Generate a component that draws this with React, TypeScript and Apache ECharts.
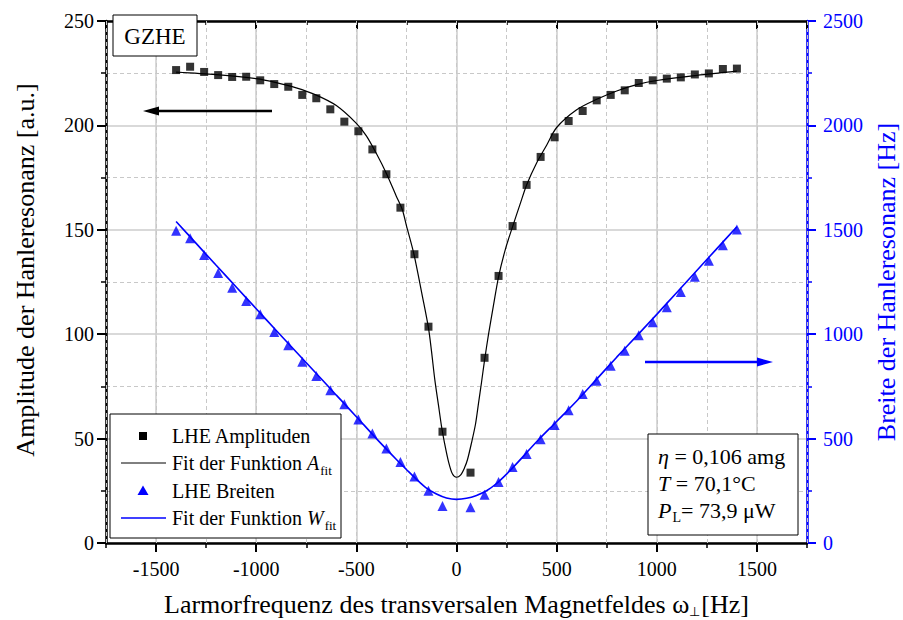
import React, { useEffect, useRef } from "react";
import * as echarts from "echarts";

// ---- data ----
const freqPoints = [
  -1400, -1330, -1260, -1190, -1120, -1050, -980, -910, -840, -770, -700, -630, -560, -490, -420, -350, -280, -210, -140, -70,
  70, 140, 210, 280, 350, 420, 490, 560, 630, 700, 770, 840, 910, 980, 1050, 1120, 1190, 1260, 1330, 1400,
];
const amplitudes = [
  226.5, 228.1, 225.6, 224.1, 223.2, 223.3, 221.6, 219.8, 218.5, 214.6, 213.0, 207.7, 201.8, 197.2, 188.5, 176.6, 160.6, 138.3, 103.6, 53.3,
  33.7, 88.7, 127.9, 151.8, 171.5, 184.9, 194.3, 202.1, 206.9, 212.0, 214.6, 216.8, 220.3, 221.6, 222.4, 223.0, 224.4, 224.9, 227.0, 227.2,
];
const widths = [
  1496, 1459, 1379, 1293, 1223, 1159, 1095, 1011, 947, 868, 800, 731, 664, 592, 524, 452, 388, 318, 250, 177,
  171, 231, 292, 364, 426, 497, 565, 636, 714, 777, 849, 921, 995, 1057, 1129, 1202, 1275, 1352, 1426, 1502,
];

const fitAX = [
  -1400, -1200, -1000, -900, -800, -700, -600, -500, -450, -400, -350, -300, -270, -250, -213, -170, -140, -125, -108, -90, -75, -60, -40, -20, 0,
  20, 40, 55, 75, 95, 110, 125, 140, 160, 185, 210, 245, 280, 320, 350, 400, 450, 500, 600, 700, 800, 900, 1000, 1200, 1400,
];
const fitAY = [
  225.5, 224.3, 222.4, 220.5, 218, 214.5, 209.5, 201, 195, 186.5, 177, 166, 159.5, 152, 138.5, 118, 103, 92, 78, 66, 56, 48, 39, 33, 31.5,
  32.5, 36, 40, 48, 57, 67, 77, 87.5, 100, 114, 127.5, 141, 151.5, 163, 171.5, 182, 190.5, 199, 207.5, 212.5, 216.5, 219.5, 221.5, 224, 226,
];
const fitWX = [
  -1400, -1300, -1200, -1100, -1000, -900, -800, -700, -600, -500, -400, -300, -250, -200, -150, -100, -50, 0,
  50, 100, 150, 200, 250, 300, 400, 500, 600, 700, 800, 900, 1000, 1100, 1200, 1300, 1400,
];
const fitWY = [
  1540, 1435, 1330, 1226, 1122, 1018, 915, 812, 708, 605, 500, 400, 352, 305, 263, 235, 216, 209,
  214, 228, 250, 285, 330, 380, 485, 582, 680, 785, 890, 992, 1095, 1200, 1305, 1410, 1515,
];

const xTickLabels = ["-1500", "-1000", "-500", "0", "500", "1000", "1500"];
const leftTicks = [0, 50, 100, 150, 200, 250];
const rightTicks = [0, 500, 1000, 1500, 2000, 2500];

const FONT = "'Liberation Serif', 'Times New Roman', serif";
const BLUE = "#0000ff";

export default function App() {
  const ref = useRef<HTMLDivElement>(null);

  useEffect(() => {
    if (!ref.current) return;
    const chart = echarts.init(ref.current, null, { renderer: "svg" });

    const ampData = freqPoints.map((x, i) => [x, amplitudes[i]]);
    const widthData = freqPoints.map((x, i) => [x, widths[i]]);
    const fitAData = fitAX.map((x, i) => [x, fitAY[i]]);
    const fitWData = fitWX.map((x, i) => [x, fitWY[i]]);

    const majorGrid = { color: "#cccccc", width: 1.5 };
    const minorGrid = { color: "#c8c8c8", width: 1, type: [4, 3] as any };

    const xBase = { type: "value" as const, min: -1750, max: 1750 };
    const Z = 100;

    const option: any = {
      animation: false,
      backgroundColor: "#ffffff",
      textStyle: { fontFamily: FONT },
      grid: { left: 106, right: 96, top: 21, bottom: 77, containLabel: false, outerBoundsMode: "none" },
      xAxis: [
        {
          ...xBase,
          position: "bottom",
          splitNumber: 7,
          axisLine: { onZero: false, lineStyle: { color: "#000", width: 2.5 } },
          axisTick: { length: 9, lineStyle: { color: "#000", width: 2 } },
          axisLabel: {
            fontFamily: FONT,
            fontSize: 20,
            color: "#000",
            margin: 16,
            showMinLabel: false,
            showMaxLabel: false,
            formatter: (v: number) => (xTickLabels.includes(String(v)) ? String(v) : ""),
          },
          splitLine: { show: true, lineStyle: majorGrid },
          name: "{m|Larmorfrequenz des transversalen Magnetfeldes ω}{sub|⊥}{m|[Hz]}",
          nameLocation: "middle",
          nameGap: 47,
          nameTextStyle: {
            fontFamily: FONT,
            fontSize: 26,
            color: "#000",
            rich: {
              m: { fontFamily: FONT, fontSize: 26, color: "#000", lineHeight: 28 },
              sub: { fontFamily: FONT, fontSize: 13, color: "#000", lineHeight: 13, padding: [14, 1, 0, 0] },
            },
          },
        },
        {
          ...xBase,
          position: "bottom",
          interval: 250,
          axisLine: { show: false, onZero: false },
          axisTick: { length: 5, lineStyle: { color: "#000", width: 1.5 } },
          axisLabel: { show: false },
          splitLine: { show: true, lineStyle: minorGrid },
          z: 1,
        },
        {
          ...xBase,
          position: "top",
          splitNumber: 7,
          axisLine: { onZero: false, lineStyle: { color: "#000", width: 2.5 } },
          axisTick: { inside: true, length: 8, lineStyle: { color: "#000", width: 2 } },
          axisLabel: { show: false },
          splitLine: { show: false },
        },
        {
          ...xBase,
          position: "top",
          interval: 250,
          axisLine: { show: false, onZero: false },
          axisTick: { inside: true, length: 4, lineStyle: { color: "#000", width: 1.5 } },
          axisLabel: { show: false },
          splitLine: { show: false },
        },
      ],
      yAxis: [
        {
          type: "value",
          position: "left",
          min: leftTicks[0],
          max: leftTicks[leftTicks.length - 1],
          interval: 50,
          axisLine: { show: true, onZero: false, lineStyle: { color: "#000", width: 2.5 } },
          axisTick: { show: true, length: 9, lineStyle: { color: "#000", width: 2 } },
          minorTick: { show: true, splitNumber: 2, length: 5, lineStyle: { color: "#000", width: 1.5 } },
          axisLabel: { fontFamily: FONT, fontSize: 20, color: "#000", margin: 12, formatter: (v: number) => String(v) },
          splitLine: { show: true, lineStyle: majorGrid },
          minorSplitLine: { show: true, lineStyle: minorGrid },
          name: "Amplitude der Hanleresonanz [a.u.]",
          nameLocation: "middle",
          nameRotate: 90,
          nameGap: 68,
          nameTextStyle: { fontFamily: FONT, fontSize: 26, color: "#000", padding: [0, 0, 0, 24] },
        },
        {
          type: "value",
          position: "right",
          min: rightTicks[0],
          max: rightTicks[rightTicks.length - 1],
          interval: 500,
          axisLine: { show: true, onZero: false, lineStyle: { color: BLUE, width: 2.5 } },
          axisTick: { show: true, length: 9, lineStyle: { color: BLUE, width: 2 } },
          minorTick: { show: true, splitNumber: 2, length: 5, lineStyle: { color: BLUE, width: 1.5 } },
          axisLabel: { fontFamily: FONT, fontSize: 20, color: BLUE, margin: 16, formatter: (v: number) => String(v) },
          splitLine: { show: false },
          name: "Breite der Hanleresonanz [Hz]",
          nameLocation: "middle",
          nameRotate: 90,
          nameGap: 64,
          nameTextStyle: { fontFamily: FONT, fontSize: 26, color: BLUE },
        },
      ],
      series: [
        {
          name: "Fit der Funktion A",
          type: "line",
          xAxisIndex: 0,
          yAxisIndex: 0,
          data: fitAData,
          showSymbol: false,
          smooth: 0.3,
          lineStyle: { color: "#000", width: 1.2 },
          z: 3,
        },
        {
          name: "Fit der Funktion W",
          type: "line",
          xAxisIndex: 0,
          yAxisIndex: 1,
          data: fitWData,
          showSymbol: false,
          smooth: 0.3,
          lineStyle: { color: BLUE, width: 1.6 },
          z: 3,
        },
        {
          name: "LHE Amplituden",
          type: "scatter",
          xAxisIndex: 0,
          yAxisIndex: 0,
          data: ampData,
          symbol: "rect",
          symbolSize: 8,
          itemStyle: { color: "#000" },
          z: 4,
        },
        {
          name: "LHE Breiten",
          type: "scatter",
          xAxisIndex: 0,
          yAxisIndex: 1,
          data: widthData,
          symbol: "triangle",
          symbolSize: 10,
          itemStyle: { color: BLUE },
          z: 4,
        },
      ],
      graphic: [
        // GZHE label box
        { type: "rect", z: Z, shape: { x: 113, y: 15, width: 84, height: 41 }, style: { fill: "#fff", stroke: "#000", lineWidth: 1 } },
        {
          type: "text",
          z: Z + 1,
          x: 155,
          y: 36,
          style: { text: "GZHE", font: `23px ${FONT}`, fill: "#000", align: "center", verticalAlign: "middle" },
        },
        // black arrow (points to left axis)
        { type: "line", z: Z, shape: { x1: 156, y1: 111, x2: 272, y2: 111 }, style: { stroke: "#000", lineWidth: 2.5 } },
        { type: "polygon", z: Z, shape: { points: [[143, 111], [159, 106.5], [159, 115.5]] }, style: { fill: "#000" } },
        // blue arrow (points to right axis)
        { type: "line", z: Z, shape: { x1: 645, y1: 362, x2: 760, y2: 362 }, style: { stroke: BLUE, lineWidth: 2.5 } },
        { type: "polygon", z: Z, shape: { points: [[773, 362], [757, 357.5], [757, 366.5]] }, style: { fill: BLUE } },
        // legend
        { type: "rect", z: Z, shape: { x: 110, y: 414, width: 231, height: 124 }, style: { fill: "#fff", stroke: "#000", lineWidth: 1 } },
        { type: "rect", z: Z + 1, shape: { x: 139, y: 432, width: 8, height: 8 }, style: { fill: "#000" } },
        {
          type: "text",
          z: Z + 1,
          x: 172,
          y: 436,
          style: { text: "LHE Amplituden", font: `20px ${FONT}`, fill: "#000", verticalAlign: "middle" },
        },
        { type: "line", z: Z + 1, shape: { x1: 121, y1: 463, x2: 166, y2: 463 }, style: { stroke: "#000", lineWidth: 1 } },
        {
          type: "text",
          z: Z + 1,
          x: 172,
          y: 463,
          style: {
            text: "{n|Fit der Funktion }{i|A}{s|fit}",
            verticalAlign: "middle",
            rich: {
              n: { fontFamily: FONT, fontSize: 20, fill: "#000" },
              i: { fontFamily: FONT, fontSize: 20, fontStyle: "italic", fill: "#000" },
              s: { fontFamily: FONT, fontSize: 13, fill: "#000", padding: [14, 0, 0, 1] },
            },
          },
        },
        { type: "polygon", z: Z + 1, shape: { points: [[143, 485.5], [148.5, 495], [137.5, 495]] }, style: { fill: BLUE } },
        {
          type: "text",
          z: Z + 1,
          x: 172,
          y: 491,
          style: { text: "LHE Breiten", font: `20px ${FONT}`, fill: "#000", verticalAlign: "middle" },
        },
        { type: "line", z: Z + 1, shape: { x1: 121, y1: 518, x2: 166, y2: 518 }, style: { stroke: BLUE, lineWidth: 1.5 } },
        {
          type: "text",
          z: Z + 1,
          x: 172,
          y: 518,
          style: {
            text: "{n|Fit der Funktion }{i|W}{s|fit}",
            verticalAlign: "middle",
            rich: {
              n: { fontFamily: FONT, fontSize: 20, fill: "#000" },
              i: { fontFamily: FONT, fontSize: 20, fontStyle: "italic", fill: "#000" },
              s: { fontFamily: FONT, fontSize: 13, fill: "#000", padding: [14, 0, 0, 1] },
            },
          },
        },
        // parameter box
        { type: "rect", z: Z, shape: { x: 648, y: 434, width: 150, height: 101 }, style: { fill: "#fff", stroke: "#000", lineWidth: 1 } },
        {
          type: "text",
          z: Z + 1,
          x: 658,
          y: 456,
          style: {
            text: "{i|η}{n| = 0,106 amg}",
            verticalAlign: "middle",
            rich: {
              i: { fontFamily: FONT, fontSize: 22, fontStyle: "italic", fill: "#000" },
              n: { fontFamily: FONT, fontSize: 22, fill: "#000" },
            },
          },
        },
        {
          type: "text",
          z: Z + 1,
          x: 658,
          y: 483,
          style: {
            text: "{i|T}{n| = 70,1°C}",
            verticalAlign: "middle",
            rich: {
              i: { fontFamily: FONT, fontSize: 22, fontStyle: "italic", fill: "#000" },
              n: { fontFamily: FONT, fontSize: 22, fill: "#000" },
            },
          },
        },
        {
          type: "text",
          z: Z + 1,
          x: 658,
          y: 510,
          style: {
            text: "{i|P}{s|L}{n|= 73,9 μW}",
            verticalAlign: "middle",
            rich: {
              i: { fontFamily: FONT, fontSize: 22, fontStyle: "italic", fill: "#000" },
              s: { fontFamily: FONT, fontSize: 14, fill: "#000", padding: [15, 0, 0, 1] },
              n: { fontFamily: FONT, fontSize: 22, fill: "#000" },
            },
          },
        },
      ],
    };

    chart.setOption(option);
    return () => chart.dispose();
  }, []);

  return (
    <div
      ref={ref}
      style={{ position: "fixed", left: 0, top: 0, width: 903, height: 620, background: "#fff" }}
    />
  );
}
